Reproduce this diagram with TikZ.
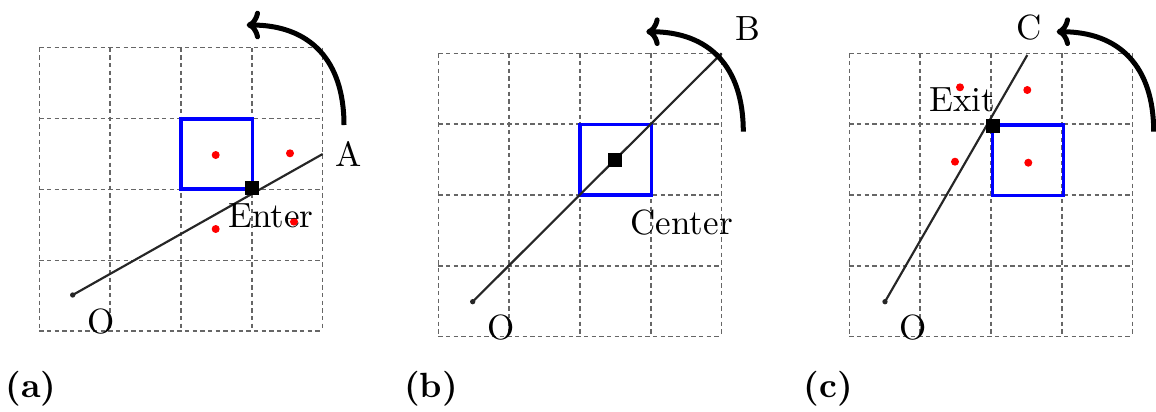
\documentclass[tikz,border=0pt]{standalone}
\usetikzlibrary{arrows.meta}
\tikzset{
  gridline/.style={draw=black!60, line width=0.45pt, dash pattern=on 1.3pt off 1pt},
  bluebox/.style={draw=blue, line width=1pt},
  ray/.style={draw=black!85, line width=0.65pt},
  odot/.style={circle, fill=black!85, inner sep=0pt, minimum size=1.6pt},
  reddot/.style={circle, fill=red, inner sep=0pt, minimum size=2.4pt},
  blacksq/.style={fill=black, inner sep=0pt, minimum size=4.2pt},
  lbl/.style={font=\fontsize{10.5}{12.6}\selectfont, inner sep=0pt, anchor=base},
  plbl/.style={font=\fontsize{10.5}{12.6}\selectfont\bfseries, inner sep=0pt, anchor=base},
  rot/.style={line width=1.5pt, -{Computer Modern Rightarrow[length=4pt,width=8.6pt]}},
}
\newcommand\drawmygrid[2]{%
  \foreach \k in {0,...,4}{%
    \draw[gridline] ({#1+\k*70.85},#2) -- ({#1+\k*70.85},{#2+283.4});
    \draw[gridline] (#1,{#2+\k*70.85}) -- ({#1+283.4},{#2+\k*70.85});
  }}
\begin{document}
\begin{tikzpicture}[x=0.3pt,y=-0.3pt]
\useasboundingbox (0,0) rectangle (1156,412);

% ---------- panel (a)
\drawmygrid{39.3}{47.7}
\draw[bluebox] (181,119) rectangle (252.3,189);
\node[reddot] (ra1) at (215.7,155) {};
\node[reddot] (ra2) at (290,153.3) {};
\node[reddot] (ra3) at (215.7,229) {};
\node[reddot] (ra4) at (294,221.7) {};
\coordinate (Oa) at (72.7,295);
\coordinate (Aa) at (322.7,154);
\draw[ray] (Oa) -- (Aa);
\node[odot] (oda) at (Oa) {};
\node[blacksq] (sqa) at (252,188.3) {};
\node[lbl] (la) at (348.3,166) {A};
\node[lbl] (lenter) at (270.8,227.7) {Enter};
\node[lbl] (loa) at (101,333.5) {O};
\coordinate (sa) at (344,125);
\coordinate (ta) at (246.7,25);
\draw[rot] (sa) .. controls +(0,-65) and +(63,0) .. (ta);
\node[plbl] (pa) at (30.8,397) {(a)};

% ---------- panel (b)
\drawmygrid{438.3}{53.3}
\draw[bluebox] (580,124.5) rectangle (651.5,195);
\coordinate (Ob) at (472.7,301.7);
\coordinate (Bb) at (721.7,53.3);
\draw[ray] (Ob) -- (Bb);
\node[odot] (odb) at (Ob) {};
\node[blacksq] (sqb) at (615.3,159.7) {};
\node[lbl] (lb) at (747.5,40) {B};
\node[lbl] (lcenter) at (681.7,234.5) {Center};
\node[lbl] (lob) at (501,339.5) {O};
\coordinate (sb) at (743.3,131.7);
\coordinate (tb) at (646.3,31.7);
\draw[rot] (sb) .. controls +(0,-65) and +(63,0) .. (tb);
\node[plbl] (pb) at (431,397.3) {(b)};

% ---------- panel (c)
\drawmygrid{849.3}{53.3}
\draw[bluebox] (992.7,125) rectangle (1063.5,195.5);
\node[reddot] (rc1) at (960,87.3) {};
\node[reddot] (rc2) at (1027.3,90) {};
\node[reddot] (rc3) at (955,161.7) {};
\node[reddot] (rc4) at (1028.3,162.7) {};
\coordinate (Oc) at (885,301.7);
\coordinate (Cc) at (1027.3,55);
\draw[ray] (Oc) -- (Cc);
\node[odot] (odc) at (Oc) {};
\node[blacksq] (sqc) at (992.7,125.7) {};
\node[lbl] (lc) at (1028.7,39.5) {C};
\node[lbl] (lexit) at (962.5,111.3) {Exit};
\node[lbl] (loc) at (912.7,339.5) {O};
\coordinate (sc) at (1153.7,131.7);
\coordinate (tc) at (1056.7,31.7);
\draw[rot] (sc) .. controls +(0,-65) and +(63,0) .. (tc);
\node[plbl] (pc) at (828.5,397.3) {(c)};
\end{tikzpicture}
\end{document}
